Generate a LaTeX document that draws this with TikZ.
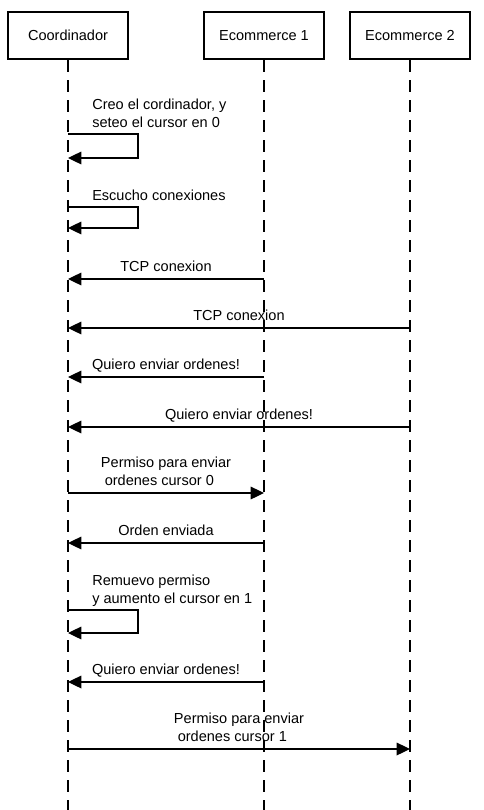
\documentclass[tikz,border=0pt]{standalone}
\usepackage{fontspec}
\setmainfont{Liberation Sans}
\usetikzlibrary{arrows.meta}
\tikzset{
  every picture/.style={x=0.75pt, y=-0.75pt},
  actor/.style={draw, line width=1.8pt, minimum width=90pt, minimum height=35.25pt, inner sep=0pt, font=\fontsize{10.9}{13.5}\selectfont},
  lifeline/.style={line width=1pt, dash pattern=on 9pt off 6pt},
  msg/.style={-{Triangle[length=10pt, width=9.5pt]}, line width=0.9pt},
  lbl/.style={font=\fontsize{10.9}{13.5}\selectfont, inner sep=0pt, text depth=0pt, anchor=south, yshift=5pt},
}
\begin{document}
\begin{tikzpicture}
  \useasboundingbox (0,0) rectangle (483,810);
  \node[actor] (coord) at (68,35.5) {Coordinador};
  \node[actor] (ecom1) at (264,35.5) {Ecommerce 1};
  \node[actor] (ecom2) at (410,35.5) {Ecommerce 2};
  \foreach \p in {coord, ecom1, ecom2} {
    \coordinate (\p-end) at (\p |- 0,810);
    \draw[lifeline] (\p) -- (\p-end);
  }
  % coordinator sets itself up
  \draw[msg] (coord |- 0,134) -- ++(70,0) -- ++(0,24) -- (coord |- 0,158);
  \node[lbl, anchor=south west, align=left] (setup) at (92,134) {Creo el cordinador, y\\seteo el cursor en 0};
  \draw[msg] (coord |- 0,207) -- ++(70,0) -- ++(0,21) -- (coord |- 0,228);
  \node[lbl, anchor=south west] (listen) at (92,207) {Escucho conexiones};
  % connections and requests
  \draw[msg] (ecom1 |- 0,279) -- node[lbl] {TCP conexion} (coord |- 0,279);
  \draw[msg] (ecom2 |- 0,328) -- node[lbl] {TCP conexion} (coord |- 0,328);
  \draw[msg] (ecom1 |- 0,377) -- node[lbl] {Quiero enviar ordenes!} (coord |- 0,377);
  \draw[msg] (ecom2 |- 0,427) -- node[lbl] {Quiero enviar ordenes!} (coord |- 0,427);
  \draw[msg] (coord |- 0,493) -- node[lbl, align=center] {Permiso para enviar\\ordenes cursor 0\hspace*{10pt}} (ecom1 |- 0,493);
  \draw[msg] (ecom1 |- 0,543) -- node[lbl] {Orden enviada} (coord |- 0,543);
  \draw[msg] (coord |- 0,610) -- ++(70,0) -- ++(0,23) -- (coord |- 0,633);
  \node[lbl, anchor=south west, align=left] (remove) at (92,610) {Remuevo permiso\\y aumento el cursor en 1};
  \draw[msg] (ecom1 |- 0,682) -- node[lbl] {Quiero enviar ordenes!} (coord |- 0,682);
  \draw[msg] (coord |- 0,749) -- node[lbl, align=center] {Permiso para enviar\\ordenes cursor 1\hspace*{10pt}} (ecom2 |- 0,749);
\end{tikzpicture}
\end{document}
